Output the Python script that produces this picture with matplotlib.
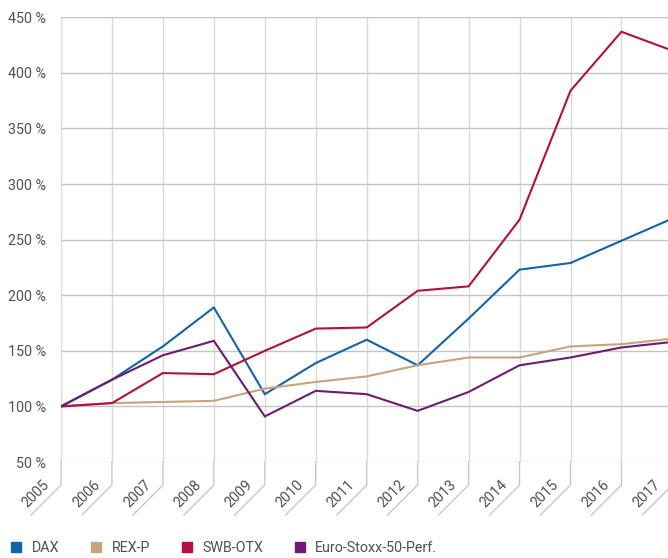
import matplotlib
matplotlib.use("Agg")
import matplotlib.pyplot as plt
import matplotlib.transforms as mtransforms
from matplotlib.lines import Line2D

# Performance indexed to 100 % in 2005
years = [2005, 2006, 2007, 2008, 2009, 2010, 2011, 2012, 2013, 2014, 2015, 2016, 2017]
dax = [100, 124, 154, 189, 111, 139, 160, 137, 179, 223, 229, 249, 269]
rex_p = [100, 103, 104, 105, 116, 122, 127, 137, 144, 144, 154, 156, 161]
swb_otx = [100, 103, 130, 129, 150, 170, 171, 204, 208, 268, 384, 437, 420]
euro_stoxx = [100, 124, 146, 159, 91, 114, 111, 96, 113, 137, 144, 153, 158]

series_names = ["DAX", "REX-P", "SWB-OTX", "Euro-Stoxx-50-Perf."]
series_values = [dax, rex_p, swb_otx, euro_stoxx]
series_colors = ["#1464a5", "#c6a47e", "#b3103d", "#6b1c6f"]

y_ticks = [50, 100, 150, 200, 250, 300, 350, 400, 450]

plt.rcParams["font.family"] = ["Roboto", "DejaVu Sans"]
text_color = "#505050"
fs = 10.3

fig = plt.figure(figsize=(6.68, 5.58), dpi=100)
ax = fig.add_axes([61 / 668, 96 / 558, 611.4 / 668, 444.7 / 558])

for vals, col in zip(series_values, series_colors):
    ax.plot(years, vals, color=col, lw=1.5, solid_joinstyle="miter", zorder=3)

ax.set_xlim(years[0], years[-1])
ax.set_ylim(y_ticks[0], y_ticks[-1])
ax.set_yticks(y_ticks)
ax.set_yticklabels([f"{v} %" for v in y_ticks])
ax.set_xticks(years)
ax.set_xticklabels([])

for s in ax.spines.values():
    s.set_visible(False)

ax.tick_params(axis="y", length=0, pad=11, labelsize=fs, labelcolor=text_color)
ax.tick_params(axis="x", length=0)

ax.yaxis.grid(True, color="#c4c4c4", lw=1.0)
ax.xaxis.grid(True, color="#dadada", lw=1.0)
ax.set_axisbelow(True)

# Slanted tick marks under each year with the rotated labels above them
for yr in years:
    base = fig.dpi_scale_trans + mtransforms.ScaledTranslation(yr, y_ticks[0], ax.transData)
    ax.add_line(Line2D([0, 0, -0.30], [0, -0.23, -0.53], color="#c8c8c8", lw=1.0,
                       transform=base, clip_on=False))
    ax.text(-0.255, -0.315, str(yr), transform=base, rotation=45, ha="center", va="center",
            rotation_mode="anchor", fontsize=fs, color=text_color, clip_on=False)

handles = [Line2D([], [], ls="none", marker="s", markersize=7, color=c) for c in series_colors]
fig.legend(handles, series_names, loc="center left", bbox_to_anchor=(9.3 / 668, 10 / 558),
           ncol=4, frameon=False, fontsize=fs, labelcolor=text_color,
           handlelength=1.0, handletextpad=0.58, columnspacing=2.07, borderaxespad=0.0,
           borderpad=0.0)

fig.savefig("out.png", dpi=100)
